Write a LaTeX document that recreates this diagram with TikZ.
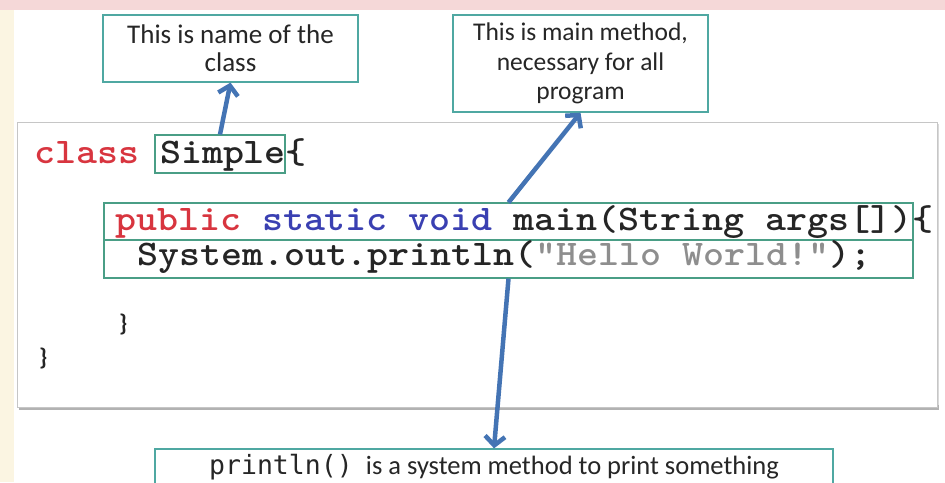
\documentclass[tikz,border=0pt]{standalone}
\usepackage{fontspec}
\setmainfont{Carlito}
\newfontfamily\codefont{lmmonolt10-bold}[Extension=.otf, FakeStretch=1.11]
\newfontfamily\smallmono{DejaVu Sans Mono}
\usetikzlibrary{arrows.meta}
\definecolor{kwred}{HTML}{D8353F}
\definecolor{kwblue}{HTML}{3A40B2}
\definecolor{strgray}{HTML}{8E8E8E}
\definecolor{codeblack}{HTML}{252525}
\definecolor{noteline}{HTML}{4FA8A2}
\definecolor{hlline}{HTML}{4A9E86}
\definecolor{arrowblue}{HTML}{4474B4}
\definecolor{bandpink}{HTML}{F5D8D8}
\definecolor{stripcream}{HTML}{FBF5E2}
\begin{document}
\begin{tikzpicture}[x=1pt,y=-1pt,
  code/.style={font=\codefont\fontsize{36}{40}\selectfont, inner sep=0pt, anchor=base west, text=codeblack},
  brace/.style={font=\bfseries\fontsize{24}{28}\selectfont, inner sep=0pt, anchor=base west, text=codeblack},
  note/.style={draw=noteline, line width=1.3pt, fill=white, align=center, text=black!85, inner sep=0pt},
  hlbox/.style={draw=hlline, line width=1.1pt, inner sep=0pt},
  pointer/.style={draw=arrowblue, line width=4.5pt, -{Straight Barb[length=9pt,width=20pt]}}
]
\useasboundingbox (0,0) rectangle (945,482);
\clip (0,0) rectangle (945,482);
% background
\fill[white] (0,0) rectangle (945,482);
\fill[stripcream] (0,0) rectangle (14,482);
\fill[bandpink] (0,0) rectangle (945,10);
% code panel
\fill[gray!30] (19,124) rectangle (939,410);
\fill[gray!60] (19,405) rectangle (939,410);
\filldraw[fill=white, draw=gray!45, line width=0.8pt] (17,122) rectangle (937,407);
% highlight boxes
\node[hlbox, minimum width=130pt, minimum height=38pt] (simple) at (220,154) {};
\node[hlbox, minimum width=809pt, minimum height=37pt] (pubbox) at (508.5,221.5) {};
\node[hlbox, minimum width=809pt, minimum height=38pt] (sysbox) at (508.5,259) {};
% code text
\node[code] (line1) at (34,163) {\textcolor{kwred}{class} Simple\{};
\node[code] (line2) at (115,230) {\textcolor{kwred}{public} \textcolor{kwblue}{static void} main(String args[])\{};
\node[code] (line3) at (137,265) {System.out.println(\textcolor{strgray}{"Hello World!"});};
\node[brace] (close1) at (119,331) {\}};
\node[brace] (close2) at (39,365) {\}};
% notes
\node[note, font=\fontsize{27}{28}\selectfont, minimum width=255pt, minimum height=67pt] (n1) at (230.5,48.5) {This is name of the\\class};
\node[note, font=\fontsize{25.5}{29.5}\selectfont, minimum width=255pt, minimum height=97pt] (n2) at (580.5,63.5) {This is main method,\\necessary for all\\program};
\node[note, font=\fontsize{26.5}{30}\selectfont, minimum width=678pt, minimum height=36pt] (n3) at (494,467) {{\smallmono println()}\enspace is a system method to print something};
% arrows
\draw[pointer] (simple.north) -- (n1.south);
\draw[pointer] (pubbox.north) -- (n2.south);
\draw[pointer] (sysbox.south) -- (n3.north);
\end{tikzpicture}
\end{document}
